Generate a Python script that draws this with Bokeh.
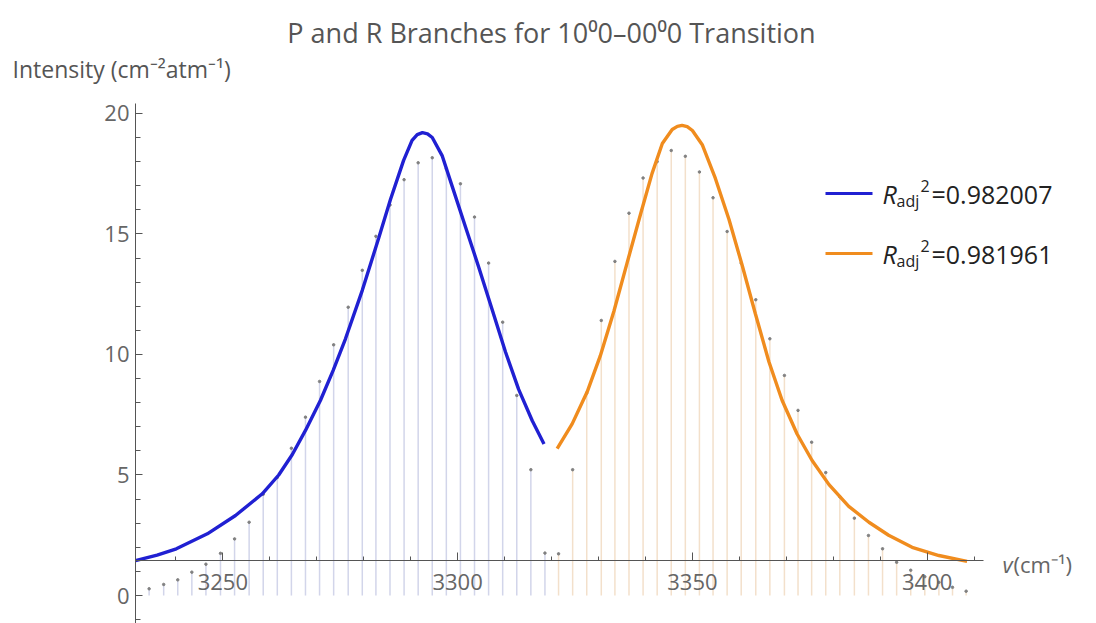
from bokeh.plotting import figure
from bokeh.models import Range1d, SingleIntervalTicker, Label
from bokeh.embed import file_html
from bokeh.resources import INLINE

# ---------------- data ----------------
# P branch line positions (cm^-1) and intensities
p_nu = [3234.3, 3237.4, 3240.4, 3243.4, 3246.4, 3249.5, 3252.5, 3255.6, 3258.6, 3261.6,
        3264.6, 3267.6, 3270.6, 3273.6, 3276.7, 3279.7, 3282.6, 3285.6, 3288.6, 3291.6,
        3294.6, 3297.6, 3300.6, 3303.6, 3306.6, 3309.6, 3312.6, 3315.6, 3318.6]
p_int = [0.28, 0.46, 0.65, 0.97, 1.30, 1.75, 2.35, 3.04, 4.20, 4.90,
         6.11, 7.40, 8.88, 10.40, 11.96, 13.49, 14.90, 16.20, 17.25, 17.95,
         18.16, 17.70, 17.08, 15.70, 13.79, 11.34, 8.30, 5.22, 1.76]

# R branch line positions (cm^-1) and intensities
r_nu = [3321.5, 3324.5, 3327.5, 3330.6, 3333.5, 3336.5, 3339.5, 3342.5, 3345.5, 3348.5,
        3351.5, 3354.4, 3357.4, 3360.4, 3363.5, 3366.5, 3369.6, 3372.5, 3375.4, 3378.4,
        3381.4, 3384.5, 3387.5, 3390.5, 3393.5, 3396.5, 3399.5, 3402.5, 3405.4, 3408.3]
r_int = [1.73, 5.22, 8.40, 11.41, 13.86, 15.86, 17.32, 18.00, 18.46, 18.22,
         17.57, 16.50, 15.10, 13.79, 12.27, 10.65, 9.13, 7.68, 6.36, 5.10,
         4.10, 3.21, 2.49, 1.94, 1.38, 1.05, 0.78, 0.55, 0.34, 0.18]

# fitted curves
p_fit_nu = [3231.4, 3236.0, 3240.1, 3246.7, 3252.7, 3258.4, 3261.9, 3264.8, 3267.6, 3270.8,
            3273.5, 3276.1, 3279.7, 3283.2, 3285.7, 3288.5, 3290.3, 3291.4, 3292.5, 3293.6,
            3294.6, 3296.7, 3298.9, 3301.7, 3304.5, 3307.4, 3310.2, 3313.0, 3315.9, 3318.4]
p_fit_int = [1.45, 1.68, 1.94, 2.56, 3.32, 4.22, 5.00, 5.85, 6.85, 8.10,
             9.34, 10.64, 12.66, 14.83, 16.43, 18.05, 18.88, 19.12, 19.20, 19.15,
             19.00, 18.25, 16.94, 15.28, 13.62, 11.83, 10.10, 8.55, 7.25, 6.29]
r_fit_nu = [3321.2, 3324.4, 3327.6, 3330.4, 3333.3, 3336.1, 3339.0, 3341.4, 3343.6, 3345.7,
            3346.8, 3347.8, 3348.9, 3350.0, 3352.1, 3354.9, 3357.8, 3360.6, 3363.4, 3366.3,
            3369.1, 3372.3, 3375.5, 3379.1, 3383.3, 3387.6, 3391.8, 3396.8, 3402.5, 3408.5]
r_fit_int = [6.09, 7.12, 8.45, 9.95, 11.80, 13.80, 15.85, 17.50, 18.75, 19.33,
             19.46, 19.50, 19.45, 19.29, 18.70, 17.30, 15.60, 13.70, 11.70, 9.70,
             8.10, 6.70, 5.60, 4.60, 3.70, 3.04, 2.50, 2.00, 1.66, 1.42]

legend_labels = ["=0.982007", "=0.981961"]
title_text = "P and R Branches for 10\u20700\u201300\u20700 Transition"
ylabel_text = "Intensity (cm\u207b\u00b2atm\u207b\u00b9)"

# ---------------- layout ----------------
W, H = 1096, 623
# pixel position of the plot box in the reference
L, R, T, B = 135, 983, 103, 623
XA, XB = 3231.4, 3412.0        # data at L and R
YA, YB = -1.16, 20.41          # data at B and T
AXIS_Y = 1.45
sx = (R - L) / (XB - XA)
sy = (B - T) / (YB - YA)

def dx(px):
    return XA + (px - L) / sx

def dy(py):
    return YB - (py - T) / sy

FONT = "Open Sans"
BLUE = "#2020d2"
ORANGE = "#f08c1e"

p = figure(width=W, height=H, output_backend="svg", toolbar_location=None,
           x_range=Range1d(dx(0), dx(W)), y_range=Range1d(dy(H), dy(0)),
           min_border_left=0, min_border_right=0, min_border_top=0, min_border_bottom=0)
p.outline_line_color = None
p.xgrid.visible = False
p.ygrid.visible = False
p.background_fill_color = "white"
p.border_fill_color = "white"

# axes
p.xaxis.fixed_location = AXIS_Y
p.yaxis.fixed_location = XA
p.xaxis.bounds = (XA, XB)
p.yaxis.bounds = (YA, YB)
p.xaxis.ticker = SingleIntervalTicker(interval=50, num_minor_ticks=5)
p.yaxis.ticker = SingleIntervalTicker(interval=5, num_minor_ticks=5)
for ax in (p.xaxis, p.yaxis):
    ax.axis_line_color = "#555555"
    ax.major_tick_line_color = "#555555"
    ax.minor_tick_line_color = "#555555"
    ax.major_tick_out = 0
    ax.minor_tick_out = 0
    ax.major_label_text_font = FONT
    ax.major_label_text_font_size = "22px"
    ax.major_label_text_color = "#666666"
p.xaxis.major_tick_in = 8
p.xaxis.minor_tick_in = 4
p.yaxis.major_tick_in = 7
p.yaxis.minor_tick_in = 5
p.xaxis.major_label_standoff = 13
p.yaxis.major_label_standoff = 6

# sticks
p.segment(x0=p_nu, y0=[0] * len(p_nu), x1=p_nu, y1=p_int, line_color="#d2d5ea", line_width=1.5)
p.segment(x0=r_nu, y0=[0] * len(r_nu), x1=r_nu, y1=r_int, line_color="#f3e0cb", line_width=1.5)
p.scatter(p_nu, p_int, size=2.5, color="#808080")
p.scatter(r_nu, r_int, size=2.5, color="#808080")

# fits
p.line(p_fit_nu, p_fit_int, line_color=BLUE, line_width=3.4)
p.line(r_fit_nu, r_fit_int, line_color=ORANGE, line_width=3.4)

def label(px, py, text, size, color="#222222", style="normal", align="left"):
    p.add_layout(Label(x=dx(px), y=dy(py), text=text, text_font=FONT, text_font_style=style,
                       text_font_size=size, text_color=color, text_align=align,
                       text_baseline="middle"))

# legend (manual, for sub/superscripts)
for i, (col, lab) in enumerate(zip([BLUE, ORANGE], legend_labels)):
    yc = 193 + 60 * i
    p.segment(x0=[dx(825)], y0=[dy(yc)], x1=[dx(872)], y1=[dy(yc)], line_color=col, line_width=3)
    label(882, yc, "R", "25px", style="italic")
    label(896, yc + 7, "adj", "16px")
    label(920, yc - 8, "2", "16px")
    label(931, yc, lab, "25px")

# title and axis labels
label(551, 32, title_text, "27px", color="#555555", align="center")
label(12, 68, ylabel_text, "23px", color="#555555")
label(1002, 563, "v", "22px", color="#666666", style="italic")
label(1013, 563, "(cm\u207b\u00b9)", "22px", color="#666666")

open("out.html", "w").write(file_html(p, INLINE))
